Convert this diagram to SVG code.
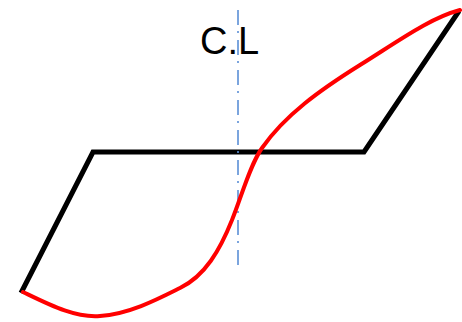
<svg xmlns="http://www.w3.org/2000/svg" width="462" height="322" viewBox="0 0 462 322">
<style>
.frame{fill:none;stroke:#000;stroke-width:5;stroke-linejoin:miter}
.cl{fill:none;stroke:#5b8fd6;stroke-width:1.6;stroke-dasharray:15 6 2 7}
.curve{fill:none;stroke:#ff0000;stroke-width:4;stroke-linecap:round}
.lbl{font-family:"Liberation Sans",Arial,sans-serif;font-size:38px;fill:#000}
</style>
<rect width="462" height="322" fill="#fff"/>
<g id="frame"><path class="frame" d="M21,293 L93,152 L364,152 L459,11"/></g>
<g id="centerline"><line class="cl" x1="238" y1="10" x2="238" y2="266"/></g>
<g id="label"><text class="lbl" x="200" y="54">C.L</text></g>
<g id="curve"><path class="curve" d="M23,292 C50,305 75,318 100,316 C130,314 160,298 180,288 C205,276 220,250 232,220 C242,195 250,165 262,148 C285,115 320,90 360,65 C400,40 430,18 460,10"/></g>
</svg>
